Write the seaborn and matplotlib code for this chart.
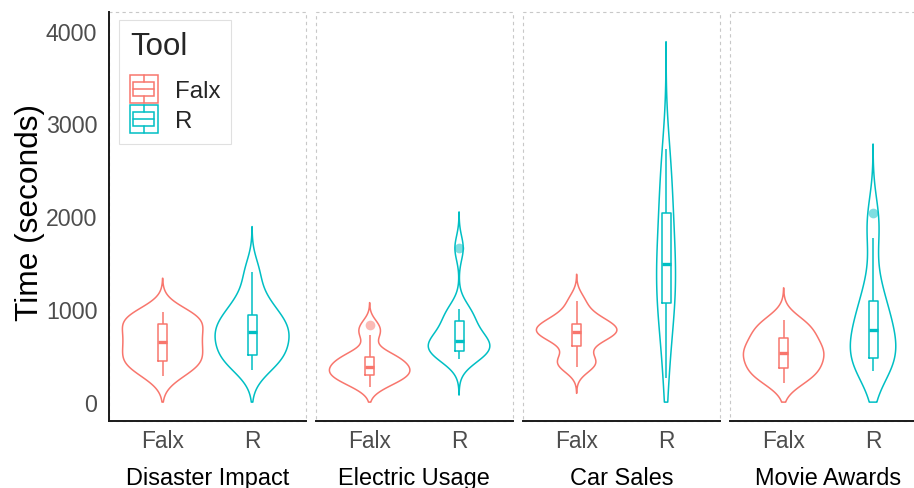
import numpy as np
import pandas as pd
import matplotlib
matplotlib.use("Agg")
import matplotlib.pyplot as plt
from matplotlib.patches import Rectangle, Patch
from matplotlib.lines import Line2D
from matplotlib.legend_handler import HandlerBase
import seaborn as sns

# ---- data: completion time (seconds) per task and tool ----
tasks = ["Disaster Impact", "Electric Usage", "Car Sales", "Movie Awards"]
tools = ["Falx", "R"]
tool_colors = ["#F8766D", "#00BFC4"]
y_ticks = [0, 1000, 2000, 3000, 4000]

disaster_falx = [276, 380, 420, 448, 530, 590, 646, 700, 770, 840, 880, 930, 969]
disaster_r = [348, 460, 500, 509, 640, 700, 753, 790, 850, 940, 1000, 1150, 1406]
electric_falx = [161, 230, 260, 287, 320, 350, 380, 410, 450, 491, 530, 720, 825]
electric_r = [466, 510, 540, 555, 590, 630, 663, 700, 760, 878, 930, 1004, 1658]
car_falx = [377, 420, 460, 609, 700, 730, 753, 770, 800, 843, 880, 950, 1094]
car_r = [262, 700, 900, 1066, 1200, 1350, 1489, 1600, 1800, 2034, 2200, 2450, 2727]
movie_falx = [204, 280, 330, 369, 440, 500, 531, 570, 630, 692, 760, 820, 886]
movie_r = [330, 400, 450, 477, 560, 680, 778, 850, 950, 1094, 1300, 1769, 2034]

times = {
    ("Disaster Impact", "Falx"): disaster_falx,
    ("Disaster Impact", "R"): disaster_r,
    ("Electric Usage", "Falx"): electric_falx,
    ("Electric Usage", "R"): electric_r,
    ("Car Sales", "Falx"): car_falx,
    ("Car Sales", "R"): car_r,
    ("Movie Awards", "Falx"): movie_falx,
    ("Movie Awards", "R"): movie_r,
}
rows = [(task, tool, t) for (task, tool), vals in times.items() for t in vals]
df = pd.DataFrame(rows, columns=["Task", "Tool", "Time"])


def nrd0_factor(kde):
    """Silverman's rule of thumb (R's bw.nrd0) as a factor of the sample sd."""
    x = np.asarray(kde.dataset).ravel()
    sd = x.std(ddof=1)
    q75, q25 = np.percentile(x, [75, 25])
    bw = 0.9 * min(sd, (q75 - q25) / 1.34) * len(x) ** -0.2
    return bw / sd


class BoxKeyHandler(HandlerBase):
    """Legend key: outlined square with a small box-and-whisker glyph inside."""

    def create_artists(self, legend, orig_handle, xdescent, ydescent,
                       width, height, fontsize, trans):
        c = orig_handle.get_edgecolor()
        x0, y0 = -xdescent, -ydescent
        lw = 1.1
        arts = [
            Rectangle((x0, y0), width, height, fill=False, ec=c, lw=lw),
            Rectangle((x0 + 0.125 * width, y0 + 0.25 * height),
                      0.75 * width, 0.5 * height, fill=False, ec=c, lw=lw),
            Line2D([x0 + 0.125 * width, x0 + 0.875 * width],
                   [y0 + 0.5 * height] * 2, color=c, lw=lw),
            Line2D([x0 + 0.5 * width] * 2, [y0, y0 + 0.25 * height], color=c, lw=lw),
            Line2D([x0 + 0.5 * width] * 2, [y0 + 0.75 * height, y0 + height], color=c, lw=lw),
        ]
        for a in arts:
            a.set_transform(trans)
        return arts


sns.set_style("white")
plt.rcParams["font.family"] = ["Liberation Sans", "DejaVu Sans"]

W, H = 914, 489
fig = plt.figure(figsize=(W / 100, H / 100), dpi=100)

panel_left0, panel_step, panel_w = 109, 207, 196.7
panel_top, panel_bottom = 13, 421.7

axes = []
for i, task in enumerate(tasks):
    ax = fig.add_axes([
        (panel_left0 + panel_step * i) / W,
        (H - panel_bottom) / H,
        panel_w / W,
        (panel_bottom - panel_top) / H,
    ])
    axes.append(ax)
    sub = df[df["Task"] == task]

    n_before = len(ax.collections)
    sns.violinplot(
        data=sub, x="Tool", y="Time", hue="Tool", order=tools, hue_order=tools,
        palette=tool_colors, saturation=1, fill=False, inner=None, cut=3,
        gridsize=512, bw_method=nrd0_factor, density_norm="area",
        common_norm=True, width=0.9, linewidth=1.1, legend=False, ax=ax,
    )
    # the time axis starts at zero: flatten violin tails that reach below it
    for coll in ax.collections[n_before:]:
        for p in coll.get_paths():
            v = p.vertices.copy()
            v[:, 1] = np.maximum(v[:, 1], 0)
            p.vertices = v

    n_lines = len(ax.lines)
    sns.boxplot(
        data=sub, x="Tool", y="Time", hue="Tool", order=tools, hue_order=tools,
        palette=tool_colors, saturation=1, fill=False, width=0.1, whis=1.5,
        showcaps=False, linewidth=1.1, medianprops=dict(linewidth=2.4),
        flierprops=dict(marker="o", markersize=7), legend=False, ax=ax,
    )
    for ln in ax.lines[n_lines:]:
        if ln.get_marker() == "o" and len(ln.get_xdata()):
            col = tool_colors[int(round(np.asarray(ln.get_xdata())[0]))]
            ln.set_markerfacecolor(col)
            ln.set_markeredgecolor("none")
            ln.set_alpha(0.5)
            ln.set_linestyle("none")

    ax.set_xlim(-0.6, 1.6)
    ax.set_ylim(-200, 4200)
    ax.set_yticks(y_ticks)

    # dashed panel frame
    ax.add_patch(Rectangle((0, 0), 1, 1, transform=ax.transAxes, fill=False,
                           ec="#c8c8c8", lw=0.8, ls=(0, (3, 3)), clip_on=False,
                           zorder=0.5))
    for s in ["top", "right"]:
        ax.spines[s].set_visible(False)
    ax.spines["bottom"].set_color("#1a1a1a")
    ax.spines["bottom"].set_linewidth(1.4)
    ax.spines["left"].set_color("#1a1a1a")
    ax.spines["left"].set_linewidth(1.4)
    ax.spines["left"].set_visible(i == 0)

    ax.tick_params(axis="x", length=3.2, width=0.9, color="#333333",
                   labelsize=16.4, labelcolor="#4D4D4D", pad=3)
    if i == 0:
        ax.tick_params(axis="y", length=3.4, width=0.9, color="#333333",
                       labelsize=16.7, labelcolor="#4D4D4D", pad=5)
        ax.set_ylabel("Time (seconds)", fontsize=22.8, color="black", labelpad=0.5)
        ax.yaxis.label.set_y(0.512)
    else:
        ax.tick_params(axis="y", left=False, labelleft=False)
        ax.set_ylabel("")
    ax.set_xlabel(task, fontsize=16.9, color="black", labelpad=9.5)

handles = [Patch(facecolor="none", edgecolor=c, label=t)
           for t, c in zip(tools, tool_colors)]
leg = axes[0].legend(
    handles=handles, title="Tool", loc="upper left",
    bbox_to_anchor=(0.051, 0.980), borderaxespad=0, frameon=True,
    fancybox=False, edgecolor="#d9d9d9", fontsize=17.3, title_fontsize=22.5,
    handlelength=1.17, handleheight=1.42, handletextpad=0.7, labelspacing=0.08,
    borderpad=0.45, alignment="left", handler_map={Patch: BoxKeyHandler()},
)
leg.get_frame().set_linewidth(0.8)
# extra room between the legend title and its keys
leg._legend_box.sep = 10

fig.savefig("out.png", dpi=100)
